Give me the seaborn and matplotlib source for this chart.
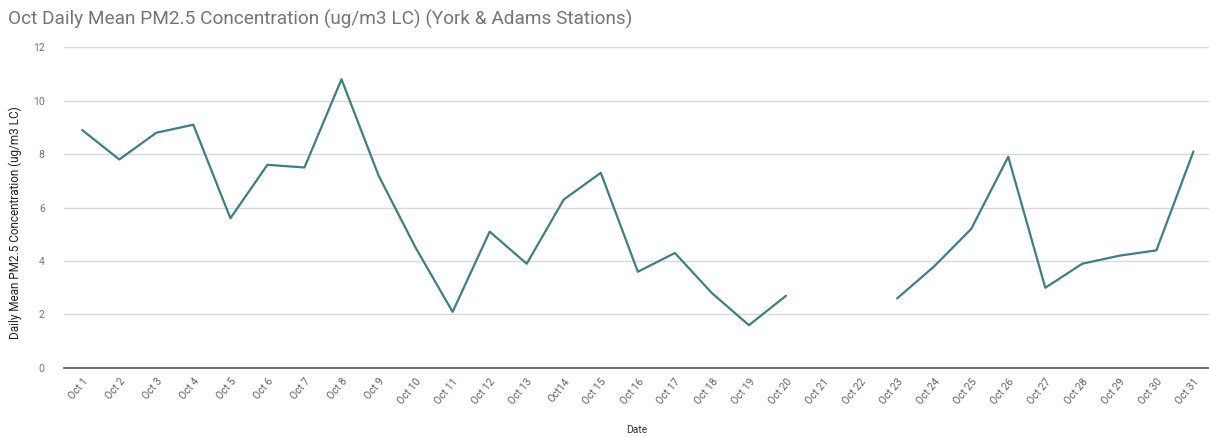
import numpy as np
import pandas as pd
import matplotlib
matplotlib.use("Agg")
import matplotlib.pyplot as plt
import matplotlib.transforms as mtransforms
import seaborn as sns

# Daily mean PM2.5 (ug/m3 LC); Oct 21 and Oct 22 have no readings
dates = ["Oct 1", "Oct 2", "Oct 3", "Oct 4", "Oct 5", "Oct 6", "Oct 7", "Oct 8",
         "Oct 9", "Oct 10", "Oct 11", "Oct 12", "Oct 13", "Oct14", "Oct 15",
         "Oct 16", "Oct 17", "Oct 18", "Oct 19", "Oct 20", "Oct 21", "Oct 22",
         "Oct 23", "Oct 24", "Oct 25", "Oct 26", "Oct 27", "Oct 28", "Oct 29",
         "Oct 30", "Oct 31"]
pm25 = [8.9, 7.8, 8.8, 9.1, 5.6, 7.6, 7.5, 10.8, 7.2, 4.5, 2.1, 5.1, 3.9, 6.3,
        7.3, 3.6, 4.3, 2.8, 1.6, 2.7, np.nan, np.nan, 2.6, 3.8, 5.2, 7.9, 3.0,
        3.9, 4.2, 4.4, 8.1]
y_ticks = [0, 2, 4, 6, 8, 10, 12]

df = pd.DataFrame({"day": np.arange(len(dates)), "pm25": pm25})
# split the series at the missing days so the line shows a gap
df["segment"] = df["pm25"].isna().cumsum()
df = df.dropna()

sns.set_theme(style="white")
plt.rcParams["font.family"] = ["Roboto", "DejaVu Sans"]

fig = plt.figure(figsize=(12.09, 4.37), dpi=100)
ax = fig.add_axes([0.053, 0.158, 0.947, 0.734])

sns.lineplot(data=df, x="day", y="pm25", units="segment", estimator=None,
             color="#3d7f88", linewidth=1.6, ax=ax, legend=False)

ax.set_xlim(-0.49, 30.42)
ax.set_ylim(0, 12)
ax.set_yticks(y_ticks)
ax.set_yticklabels([str(t) for t in y_ticks], color="#757575", fontsize=7.5)
ax.set_xticks(np.arange(len(dates)))
ax.set_xticklabels(dates, rotation=50, ha="right", rotation_mode="anchor",
                   color="#616161", fontsize=7.5)
shift = mtransforms.ScaledTranslation(5 / 100, 0, fig.dpi_scale_trans)
for lbl in ax.get_xticklabels():
    lbl.set_transform(lbl.get_transform() + shift)
ax.tick_params(axis="both", length=0, pad=6)
ax.tick_params(axis="y", pad=14)

ax.grid(axis="y", color="#d9d9d9", linewidth=1.0)
ax.set_axisbelow(True)
for side in ["top", "right", "left"]:
    ax.spines[side].set_visible(False)
ax.spines["bottom"].set_color("#555555")
ax.spines["bottom"].set_linewidth(1.2)

ax.set_xlabel("Date", color="#333333", fontsize=7.5, labelpad=14)
ax.set_ylabel("Daily Mean PM2.5 Concentration (ug/m3 LC)", color="#222222",
              fontsize=8.5)
ax.yaxis.set_label_coords(-0.037, 0.452)

fig.text(0.007, 0.955, "Oct Daily Mean PM2.5 Concentration (ug/m3 LC) (York & Adams Stations)",
         fontsize=13.7, color="#757575", ha="left", va="center")

fig.savefig("out.png", dpi=100, facecolor="white")
